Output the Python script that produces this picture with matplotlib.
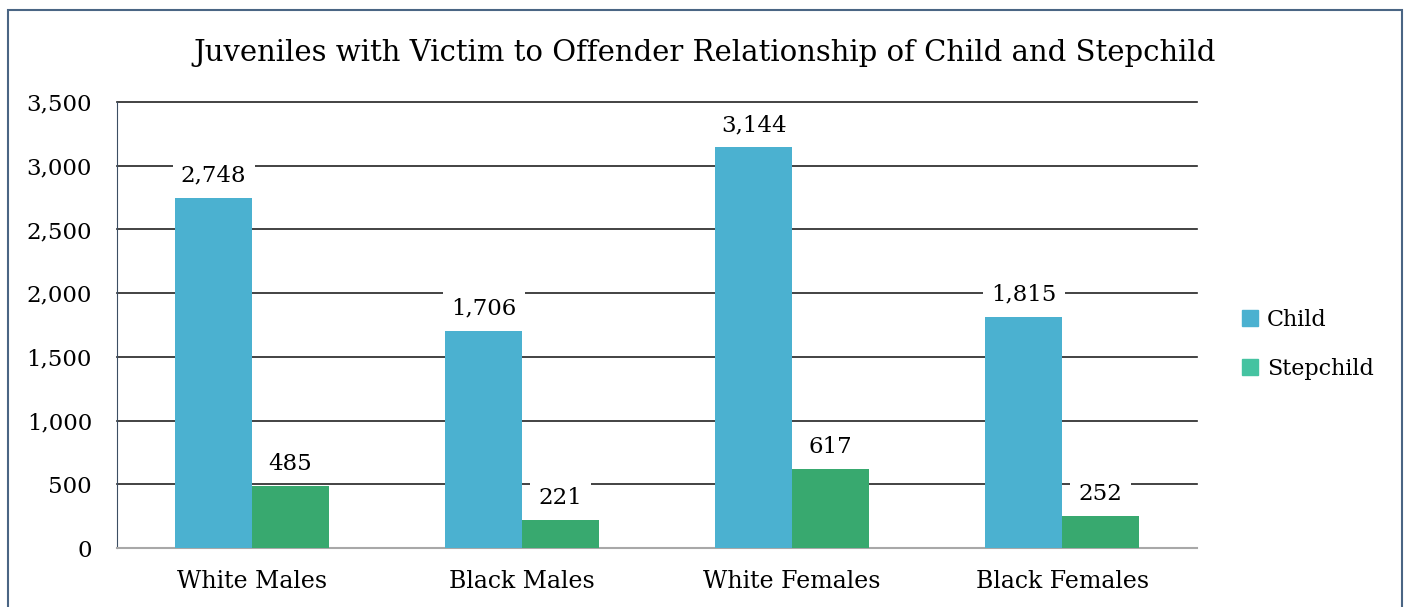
import numpy as np
import matplotlib.pyplot as plt
from matplotlib.patches import Rectangle, Patch

groups = ['White Males', 'Black Males', 'White Females', 'Black Females']
child = [2748, 1706, 3144, 1815]
stepchild = [485, 221, 617, 252]
yticks = [0, 500, 1000, 1500, 2000, 2500, 3000, 3500]

c_child = '#4BB1D0'
c_step = '#38A96F'
c_step_leg = '#45C3A1'

plt.rcParams['font.family'] = 'DejaVu Serif'

fig = plt.figure(figsize=(14.1, 6.07), dpi=100)
ax = fig.add_axes([0.083, 0.097, 0.766, 0.735])

# frame around the whole chart
fig.patches.append(Rectangle((8 / 1410, -0.05), 1394 / 1410, 1.05 - 10 / 607,
                             transform=fig.transFigure, fill=False,
                             ec='#4A6584', lw=1.5))

x = np.arange(len(groups))
w = 0.285
b1 = ax.bar(x - w / 2, child, w, color=c_child, zorder=3)
b2 = ax.bar(x + w / 2, stepchild, w, color=c_step, zorder=3)

for bars, vals in [(b1, child), (b2, stepchild)]:
    for r, v in zip(bars, vals):
        ax.annotate(f'{v:,}', (r.get_x() + r.get_width() / 2, v),
                    xytext=(0, 8), textcoords='offset points',
                    ha='center', va='bottom', fontsize=16.5, zorder=4,
                    bbox=dict(fc='white', ec='none', pad=6))

ax.set_xlim(-0.5, 3.5)
ax.set_ylim(0, 3500)
ax.set_yticks(yticks)
ax.set_yticklabels([f'{t:,}' for t in yticks])
ax.set_xticks(x)
ax.set_xticklabels(groups)
ax.tick_params(axis='x', length=0, labelsize=17, pad=16)
ax.tick_params(axis='y', length=0, labelsize=16.5, pad=18)
ax.yaxis.grid(True, color='#222222', lw=1.2, zorder=0)
for gl in ax.get_ygridlines():
    gl.set_clip_on(False)
ax.set_axisbelow(True)
for s in ['top', 'right']:
    ax.spines[s].set_visible(False)
ax.spines['left'].set_color('#3C4E63')
ax.spines['bottom'].set_color('#A8A8A8')
ax.spines['bottom'].set_linewidth(1.5)

fig.text(0.5, 0.913, 'Juveniles with Victim to Offender Relationship of Child and Stepchild',
         ha='center', va='center', fontsize=21)

handles = [Patch(color=c_child, label='Child'), Patch(color=c_step_leg, label='Stepchild')]
fig.legend(handles=handles, loc='center left', bbox_to_anchor=(0.867, 0.433),
           frameon=False, fontsize=16, handlelength=0.7, handleheight=0.7,
           handletextpad=0.4, labelspacing=1.2)

fig.savefig('out.png', dpi=100)
